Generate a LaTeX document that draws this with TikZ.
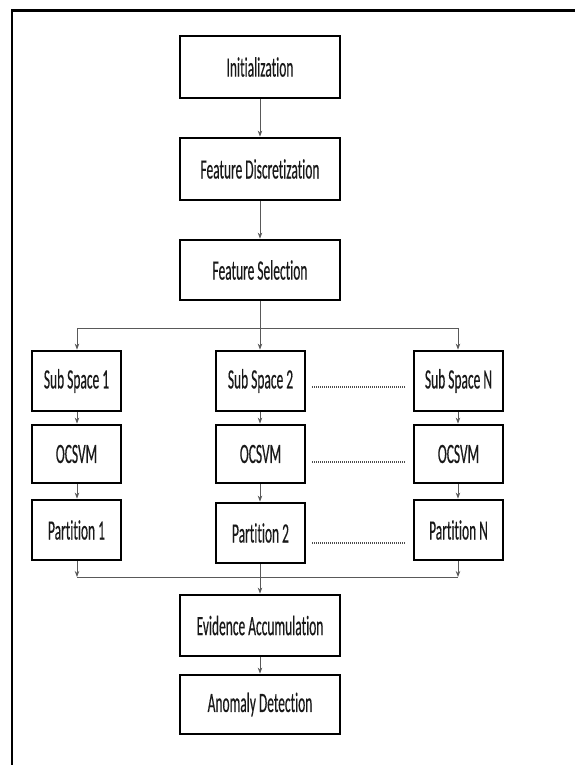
\documentclass[tikz,border=0pt]{standalone}
\usepackage{fontspec}
\setmainfont[FakeStretch=0.48,FakeBold=0.3,Ligatures=NoCommon]{Carlito}
\usetikzlibrary{arrows.meta}
\begin{document}
\begin{tikzpicture}[x=1pt,y=-1pt,
  box/.style={draw=black,line width=2.8pt,fill=white,inner sep=0pt,
    font=\fontsize{28}{33}\selectfont,text=black!90},
  cbox/.style={box,minimum width=160pt},
  sbox/.style={box,minimum width=89pt},
  conn/.style={draw=black!65,line width=0.8pt},
  arr/.style={conn,-{Stealth[length=6pt,width=4.5pt]}},
  dots/.style={draw=black!70,line width=1.6pt,dash pattern=on 1pt off 1pt}]
\useasboundingbox (0,0) rectangle (575,765);
% frame
\draw[line width=3pt] (12,11) -- (576,11);
\draw[line width=2.2pt] (12,9.5) -- (12,766);
% main column
\node[cbox,minimum height=62pt] (init) at (260,67) {Initialization};
\node[cbox,minimum height=62pt] (disc) at (260,169) {Feature Discretization};
\node[cbox,minimum height=60pt] (sel) at (260,270) {Feature Selection};
% sub spaces
\node[sbox,minimum height=60pt] (s1) at (76.5,381) {Sub Space 1};
\node[sbox,minimum height=60pt] (s2) at (260.5,381) {Sub Space 2};
\node[sbox,minimum height=60pt] (sn) at (458.5,381) {Sub Space N};
\node[sbox,minimum height=58pt] (o1) at (76.5,454) {OCSVM};
\node[sbox,minimum height=58pt] (o2) at (260.5,454) {OCSVM};
\node[sbox,minimum height=58pt] (on) at (458.5,454) {OCSVM};
\node[sbox,minimum height=60pt] (p1) at (76.5,530) {Partition 1};
\node[sbox,minimum height=60pt] (p2) at (260.5,533) {Partition 2};
\node[sbox,minimum height=60pt] (pn) at (458.5,530) {Partition N};
\node[cbox,minimum height=61pt] (ev) at (260,625.5) {Evidence Accumulation};
\node[cbox,minimum height=59pt] (an) at (260,704.5) {Anomaly Detection};
% coordinates
\coordinate (bl) at (77,328);
\coordinate (br) at (458,328);
\coordinate (ml) at (77,577);
\coordinate (mr) at (458,577);
% connectors
\draw[arr] (init) -- (disc);
\draw[arr] (disc) -- (sel);
\draw[arr] (sel.south) -- (s2.north -| sel.south);
\draw[conn] (bl) -- (br);
\draw[arr] (bl) -- (s1.north -| bl);
\draw[arr] (br) -- (sn.north -| br);
\draw[arr] (s1.south -| bl) -- (o1.north -| bl);
\draw[arr] (s2.south -| sel.south) -- (o2.north -| sel.south);
\draw[arr] (sn.south -| br) -- (on.north -| br);
\draw[arr] (o1.south -| bl) -- (p1.north -| bl);
\draw[arr] (o2.south -| sel.south) -- (p2.north -| sel.south);
\draw[arr] (on.south -| br) -- (pn.north -| br);
\draw[arr] (p1.south -| ml) -- (ml);
\draw[arr] (pn.south -| mr) -- (mr);
\draw[conn] (ml) -- (mr);
\draw[arr] (p2.south -| ev.north) -- (ev.north);
\draw[arr] (ev) -- (an);
% dotted links
\draw[dots] ([xshift=6pt,yshift=-6pt]s2.east) -- ([xshift=-8pt,yshift=-6pt]sn.west);
\draw[dots] ([xshift=6pt,yshift=-8pt]o2.east) -- ([xshift=-8pt,yshift=-8pt]on.west);
\draw[dots] ([xshift=6pt,yshift=-10pt]p2.east) -- ([xshift=-8pt,yshift=-13pt]pn.west);
\end{tikzpicture}
\end{document}
